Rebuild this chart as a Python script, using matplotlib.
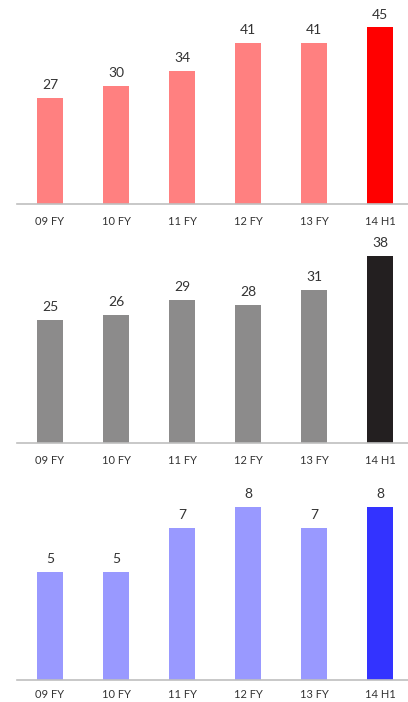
import matplotlib
matplotlib.use("Agg")
import matplotlib.pyplot as plt

# periodi e valori dei tre pannelli
periodi = ["09 FY", "10 FY", "11 FY", "12 FY", "13 FY", "14 H1"]
valori_rosso = [27, 30, 34, 41, 41, 45]
valori_grigio = [25, 26, 29, 28, 31, 38]
valori_blu = [5, 5, 7, 8, 7, 8]

plt.rcParams['font.family'] = ['Lato', 'DejaVu Sans']

W, H = 408, 702

# (valori, colore chiaro, colore ultimo, baseline px dall'alto, px per unita, altezza px, pad etichette)
pannelli = [
    (valori_rosso, "#FF8080", "#FF0000", 204.3, 3.93, 204, 8.5),
    (valori_grigio, "#8C8B8B", "#231F20", 442.7, 4.92, 207, 8.5),
    (valori_blu, "#9999FF", "#3333FF", 679.5, 21.6, 205, 6.5),
]

fig = plt.figure(figsize=(W / 100, H / 100), dpi=100)

for valori, chiaro, scuro, base, scala, alt, pad in pannelli:
    ax = fig.add_axes([17 / W, (H - base) / H, 396 / W, alt / H])
    colori = [chiaro] * (len(valori) - 1) + [scuro]
    x = range(len(valori))
    ax.bar(x, valori, width=0.4, color=colori)
    ax.set_xlim(-0.5, 5.5)
    ax.set_ylim(0, alt / scala)
    for i, v in enumerate(valori):
        ax.annotate(str(v), (i, v), xytext=(0, 5), textcoords="offset points",
                    ha="center", va="bottom", fontsize=10, color="#333333")
    ax.set_xticks(list(x))
    ax.set_xticklabels(periodi, fontsize=8, color="#333333")
    ax.tick_params(axis="x", length=0, pad=pad)
    ax.set_yticks([])
    for s in ["top", "left", "right"]:
        ax.spines[s].set_visible(False)
    ax.spines["bottom"].set_color("#BFBFBF")
    ax.spines["bottom"].set_linewidth(1.2)
    ax.patch.set_alpha(0)

fig.savefig("out.png", dpi=100)
